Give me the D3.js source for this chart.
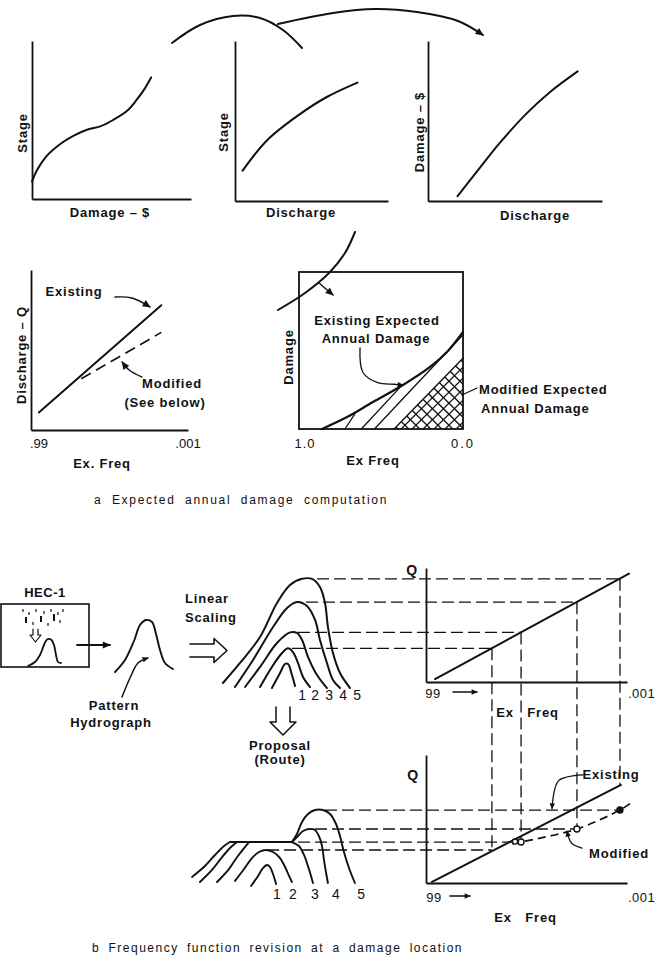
<!DOCTYPE html>
<html><head><meta charset="utf-8">
<script src="https://cdn.jsdelivr.net/npm/d3@7"></script>
<style>
body{margin:0;background:#fff}
text{font-family:"Liberation Sans",Arial,sans-serif;fill:#111;dominant-baseline:central}
</style></head>
<body><svg id="c" width="655" height="955"></svg>
<script>
const W = 655, H = 955, ink = "#111";

// ================= DATA =================
// Top row (all values in 0-100 plot units)
const stageDamage     = [[0,11],[3,18],[9,27],[18,35],[26,40],[35,44],[43,46],[51,50],[60,56],[66,63],[71,70],[75,77]];
const stageDischarge  = [[5,19],[21,38],[42,54],[60,65],[80,74]];
const damageDischarge = [[17,3],[30,21],[41,36],[56,54],[70,68],[86,81]];
// Middle row: discharge-frequency
const qfExisting = [[5,11],[83,78]];
const qfModified = [[32,32],[83,61]];
const qfTicks    = [".99", ".001"];
// Damage-frequency (x = exceedance frequency 1.0 -> 0.0, y = damage)
const dfExisting = [[0.86,0],[0.707,7.6],[0.549,17.2],[0.366,28],[0.201,39.5],[0.098,49],[0,61.8]];
const dfModified = [[0.42,0],[0,45]];
const dfHatch    = [[[0.72,0],[0.66,9.5]],[[0.62,0],[0.38,27]],[[0.54,0],[0,60]]];
const dfTicks    = ["1.0", "0.0"];
// Bottom: scaled hydrographs (t 0-100, Q in upper-frequency-chart units)
const scaledHydro = [
  [[37.1,-5.3],[42.9,7.9],[46.4,15.8],[48.6,15.8],[51.4,6.1],[53.6,-3.5]],
  [[28.6,-4.4],[37.1,13.2],[44.3,25.4],[48.6,29.5],[52.1,26.3],[55.7,16.7],[59.3,4.4],[64.3,-4.4]],
  [[17.9,-4.4],[28.6,13.2],[40.7,34.2],[50,43.5],[55,43],[58.6,36.8],[62.9,21.9],[69.3,6.1],[76.4,-5.3]],
  [[10.7,-4.4],[23.6,19.3],[37.9,48.2],[47.9,64.9],[55,70.2],[62.1,66.7],[67.9,54.4],[71.4,36.8],[76.4,16.7],[80.7,1.8],[85.7,-5.3]],
  [[2.1,-0.9],[14.3,16.7],[28.6,39.5],[40.7,69.3],[50,85.1],[58.6,90.5],[65.7,90.4],[71.4,83.3],[75,69.3],[77.1,48.2],[80.7,25.4],[85.7,7.9],[92.9,-5.3]]
];
const hydroLabels  = ["1","2","3","4","5"];
const scaledLabelT = [58.6,67.9,77.9,87.9,97.9];
// Routed hydrographs (t 0-100, Q in lower chart units)
const routedLimbs = [
  [[3.9,4.7],[11.1,13.3],[16.7,21.9],[21.7,28.9],[25,32]],
  [[8.3,0.8],[15,10.2],[20.6,20.3],[25.6,28.1],[28.9,32]],
  [[17.8,0.8],[24.4,10.9],[29.4,21.1],[33.3,28.1],[35.6,32]]
];
const routedPlateau = [[25,32],[59.4,32]];
const routedHydro = [
  [[36.7,-2.3],[40.6,5.5],[43.3,11.7],[45.6,14.1],[47.2,12.5],[48.9,7],[50.6,-0.8]],
  [[27.8,1.6],[32.8,10.9],[37.2,19.5],[41.1,24.2],[45,25.8],[48.9,24.2],[52.8,19.5],[55.6,12.5],[57.8,5.5],[59.4,0.8]],
  [[59.4,32],[63.3,28.9],[66.1,21.9],[68.3,13.3],[70,5.5],[71.1,0]],
  [[59.4,32],[62.8,36.7],[65.6,40.6],[68.9,42.2],[72.2,41.4],[74.4,36.7],[76.1,28.9],[77.2,18],[78.3,8.6],[79.4,0]],
  [[59.4,32],[62.2,38.3],[65,47.7],[68.3,53.9],[72.2,57],[76.7,57],[80.6,53.9],[83.9,46.1],[86.1,36.7],[88.3,24.2],[91.1,11.7],[94.4,0]]
];
const routedLabelT = [51.1,60,72.2,83.9,97.8];
// Frequency curves (x = exceedance-frequency position 0-100, y = Q)
const eventFreq     = [32.8, 47.3, 75.1, 96.5];
const existingQ     = [29.5, 43.5, 70, 90.5];
const routedQ       = [25.8, 32, 42.2, 57];
const vertEndQ      = [25.8, 32, 42.2, 76];
const upperDashT    = [51.4, 55.7, 61.4, 69.3];
const lowerDashT    = [45.6, 62.8, 72.2, 77.8];
const qUpperExisting = [[4.5,2.6],[101,95]];
const qLowerExisting = [[3,0.8],[97,76.6]];
const qLowerModified = [[43,30.5],[47.3,32],[75.1,42.2],[96.5,57],[101.5,62]];
const freqTicks      = ["99", ".001"];

// ================= HELPERS =================
const svg = d3.select("#c");
svg.append("rect").attr("width",W).attr("height",H).attr("fill","#fff");
const defs = svg.append("defs");
defs.append("marker").attr("id","ah").attr("viewBox","0 0 10 10").attr("refX",9).attr("refY",5)
  .attr("markerWidth",9).attr("markerHeight",8).attr("markerUnits","userSpaceOnUse").attr("orient","auto")
  .append("path").attr("d","M0,0.5L10,5L0,9.5Z").attr("fill",ink);
defs.append("marker").attr("id","ahs").attr("viewBox","0 0 10 10").attr("refX",9).attr("refY",5)
  .attr("markerWidth",7).attr("markerHeight",6).attr("markerUnits","userSpaceOnUse").attr("orient","auto")
  .append("path").attr("d","M0,0.5L10,5L0,9.5Z").attr("fill",ink);

function panel(xd, xr, yd, yr){
  return {x: d3.scaleLinear().domain(xd).range(xr), y: d3.scaleLinear().domain(yd).range(yr)};
}
function draw(p, data, o = {}){
  const gen = d3.line().x(d => p.x(d[0])).y(d => p.y(d[1]))
    .curve(o.linear ? d3.curveLinear : d3.curveCatmullRom);
  const path = svg.append("path").attr("d", gen(data)).attr("fill", o.fill || "none")
    .attr("stroke", ink).attr("stroke-width", o.w || 2).attr("stroke-linecap","round").attr("stroke-linejoin","round");
  if (o.dash) path.attr("stroke-dasharray", o.dash).attr("stroke-linecap","butt");
  if (o.arrow) path.attr("marker-end", `url(#${o.arrow})`);
  return path;
}
function axes(p){
  const g = svg.append("g");
  g.append("g").attr("transform",`translate(${p.x.range()[0]},0)`)
    .call(d3.axisLeft(p.y).tickValues([]).tickSizeOuter(0));
  g.append("g").attr("transform",`translate(0,${p.y.range()[0]})`)
    .call(d3.axisBottom(p.x).tickValues([]).tickSizeOuter(0));
  g.selectAll(".domain").attr("stroke",ink).attr("stroke-width",1.8);
}
function label(x, y, t, o = {}){
  const el = svg.append("text").attr("x",x).attr("y",y).text(t)
    .attr("text-anchor", o.anchor || "middle")
    .attr("font-size", o.size || 13)
    .attr("font-weight", o.weight || "bold")
    .attr("letter-spacing", o.ls !== undefined ? o.ls : 0.8);
  if (o.ws) el.attr("word-spacing", o.ws);
  if (o.rot) el.attr("transform",`rotate(-90,${x},${y})`);
  return el;
}
const sheet = panel([0,W],[0,W],[0,H],[0,H]);

// ================= TOP ROW =================
const p1 = panel([0,100],[32,191],[0,100],[199,41]);
axes(p1); draw(p1, stageDamage);
label(22,133,"Stage",{rot:true}); label(110,212,"Damage – $");

const p2 = panel([0,100],[235,388],[0,100],[201,41]);
axes(p2); draw(p2, stageDischarge);
label(223,132,"Stage",{rot:true}); label(301,212,"Discharge");

const p3 = panel([0,100],[428,602],[0,100],[201,41]);
axes(p3); draw(p3, damageDischarge);
label(419,132,"Damage – $",{rot:true}); label(535,215,"Discharge");

draw(sheet, [[172,43],[200,25],[233,16],[260,18],[283,30],[302,48]]);
draw(sheet, [[278,24],[333,13],[375,9],[417,12],[458,21],[483,35]], {arrow:"ah"});

// ================= MIDDLE ROW =================
const p4 = panel([0,100],[31,188],[0,100],[430,270]);
axes(p4);
draw(p4, qfExisting, {linear:true});
draw(p4, qfModified, {linear:true, dash:"11,6", w:1.6});
label(21,355,"Discharge – Q",{rot:true});
label(p4.x(0)-1,443,qfTicks[0],{anchor:"start",weight:"normal",ls:0});
label(p4.x(100),443,qfTicks[1],{weight:"normal",ls:0});
label(102,463,"Ex. Freq");
label(74,291,"Existing");
draw(p4, [[53.5,83.1],[64.3,82.5],[75.8,76.9]], {w:1.4, arrow:"ah"});
label(172,383,"Modified");
label(165,402,"(See below)");
draw(p4, [[70.7,33.1],[62.5,37.5],[58,42.5]], {w:1.4, arrow:"ah"});

const p5 = panel([1,0],[299,463],[0,100],[429,272]);
svg.append("rect").attr("x",p5.x(1)).attr("y",p5.y(100))
  .attr("width",p5.x(0)-p5.x(1)).attr("height",p5.y(0)-p5.y(100))
  .attr("fill","none").attr("stroke",ink).attr("stroke-width",1.8);
// cross-hatched modified area
const polyPts = [[dfModified[0][0],0],[dfModified[1][0],dfModified[1][1]],[0,0]];
defs.append("clipPath").attr("id","modClip").append("path")
  .attr("d", "M" + polyPts.map(d => [p5.x(d[0]),p5.y(d[1])].join(",")).join("L") + "Z");
const cx0 = p5.x(dfModified[0][0]) - 5, cx1 = p5.x(0), cy0 = p5.y(dfModified[1][1]) - 5, cy1 = p5.y(0);
const hatchG = svg.append("g").attr("clip-path","url(#modClip)");
d3.range(-120, 120, 11).forEach(c => {
  hatchG.append("line").attr("x1",cx0).attr("y1",cy1 + c).attr("x2",cx1).attr("y2",cy1 + c - (cx1-cx0))
    .attr("stroke",ink).attr("stroke-width",1.3);
  hatchG.append("line").attr("x1",cx0).attr("y1",cy0 + c).attr("x2",cx1).attr("y2",cy0 + c + (cx1-cx0))
    .attr("stroke",ink).attr("stroke-width",1.3);
});
draw(p5, dfModified, {linear:true, w:1.4});
dfHatch.forEach(h => draw(p5, h, {linear:true, w:1.3}));
draw(p5, dfExisting, {w:2.2});
label(288,357,"Damage",{rot:true});
label(305,443,dfTicks[0],{weight:"normal",ls:1});
label(463,443,dfTicks[1],{weight:"normal",ls:2});
label(373,460,"Ex Freq");
label(377,320,"Existing Expected");
label(376,338,"Annual Damage");
draw(p5, [[0.628,51.6],[0.61,36],[0.52,29.5],[0.42,28.5],[0.366,28]], {w:1.3, arrow:"ahs"});
label(479,389,"Modified Expected",{anchor:"start"});
label(481,408,"Annual Damage",{anchor:"start"});
draw(sheet, [[477,388],[462,395]], {linear:true, w:1.3});
// connector arc crossing into the damage box
draw(sheet, [[355,232],[345,253],[329,273],[305,293],[278,310]]);
draw(sheet, [[319,283],[333,295]], {linear:true, w:1.4, arrow:"ah"});

label(94,500,"a   Expected  annual  damage  computation",{anchor:"start",weight:"normal",size:12,ls:1.7,ws:4.5});

// ================= BOTTOM: HEC-1 & pattern =================
label(45,592,"HEC-1",{ls:0.5});
svg.append("rect").attr("x",sheet.x(1)).attr("y",sheet.y(604)).attr("width",88).attr("height",63)
  .attr("fill","none").attr("stroke",ink).attr("stroke-width",1.6);
const rainDrops = [[23,609,3],[29,612,3],[36,609,3],[44,611,3],[51,609,3],[58,612,3],[63,609,3],
                   [26,617,6],[41,616,6],[54,614,7],[33,622,3],[48,623,3],[60,620,3]];
rainDrops.forEach(d => svg.append("line").attr("x1",sheet.x(d[0])).attr("x2",sheet.x(d[0]))
  .attr("y1",sheet.y(d[1])).attr("y2",sheet.y(d[1]+d[2])).attr("stroke",ink).attr("stroke-width",d[2]>4?2:1.2));
draw(sheet, [[33,629],[33,635],[30,635],[35.5,642],[41,635],[38,635],[38,629]], {linear:true, w:1.2});
draw(sheet, [[28,666],[35,662],[40,655],[44,645],[47,639.5],[51,639.5],[54,645],[56,655],[58,662],[61,663]], {w:1.8});
draw(sheet, [[77,645],[110,645]], {linear:true, w:1.8, arrow:"ah"});

draw(sheet, [[115,672],[125,660],[134,641],[140,625],[146,620],[152,622],[156,634],[160,650],[165,663],[173,669]], {w:1.9});
draw(sheet, [[122,697],[130,678],[138,663],[148,658]], {w:1.5, arrow:"ahs"});
label(114,705,"Pattern");
label(111,722,"Hydrograph");

label(185,598,"Linear",{anchor:"start"});
label(185,617,"Scaling",{anchor:"start"});
draw(sheet, [[190,644],[214,644],[214,638.5],[227,650.5],[214,662.5],[214,657],[190,657]], {linear:true, w:1.6});

// scaled hydrograph family (uses upper frequency chart Q scale)
const qx  = d3.scaleLinear().domain([0,100]).range([426,627]);
const qyU = d3.scaleLinear().domain([0,100]).range([682,568]);
const qyL = d3.scaleLinear().domain([0,100]).range([883,755]);
const famU = {x: d3.scaleLinear().domain([0,100]).range([220,360]), y: qyU};
const famL = {x: d3.scaleLinear().domain([0,100]).range([185,365]), y: qyL};
scaledHydro.forEach(h => draw(famU, h, {w:2}));
hydroLabels.forEach((t,i) => label(famU.x(scaledLabelT[i]), qyU(-11.4), t, {ls:0, size:14, weight:"normal"}));

// proposal arrow
draw(sheet, [[276,707],[276,722],[270,722],[283,735],[296,722],[290,722],[290,707]], {linear:true, w:1.5});
label(280,745,"Proposal");
label(280,759,"(Route)");

// routed hydrographs
routedLimbs.forEach(h => draw(famL, h, {w:1.9}));
draw(famL, routedPlateau, {linear:true, w:2});
routedHydro.forEach(h => draw(famL, h, {w:1.9}));
hydroLabels.forEach((t,i) => label(famL.x(routedLabelT[i]), qyL(-8.6), t, {ls:0, size:14, weight:"normal"}));

// ================= FREQUENCY CHARTS =================
const pU = {x: qx, y: qyU};
const pL = {x: qx, y: qyL};
axes(pU); axes(pL);
draw(pU, qUpperExisting, {linear:true, w:2});
draw(pL, qLowerExisting, {linear:true, w:2});
draw(pL, qLowerModified, {dash:"8,5", w:1.7});

eventFreq.forEach((f,i) => {
  // horizontal dashed: scaled peaks -> existing curve
  svg.append("line").attr("x1",famU.x(upperDashT[i])).attr("x2",qx(f))
    .attr("y1",qyU(existingQ[i])).attr("y2",qyU(existingQ[i]))
    .attr("stroke",ink).attr("stroke-width",1.3).attr("stroke-dasharray","12,5");
  // vertical dashed: frequency carried down
  svg.append("line").attr("x1",qx(f)).attr("x2",qx(f))
    .attr("y1",qyU(existingQ[i])).attr("y2",qyL(vertEndQ[i]))
    .attr("stroke",ink).attr("stroke-width",1.3).attr("stroke-dasharray","12,5");
  // horizontal dashed: routed peaks -> modified points
  svg.append("line").attr("x1",famL.x(lowerDashT[i])).attr("x2",qx(f))
    .attr("y1",qyL(routedQ[i])).attr("y2",qyL(routedQ[i]))
    .attr("stroke",ink).attr("stroke-width",1.3).attr("stroke-dasharray","12,5");
});
// modified points
eventFreq.forEach((f,i) => {
  if (i === 0) return;
  svg.append("circle").attr("cx",qx(f)).attr("cy",qyL(routedQ[i])).attr("r",3)
    .attr("fill", i === 3 ? ink : "#fff").attr("stroke",ink).attr("stroke-width",1.4);
});
svg.append("circle").attr("cx",qx(eventFreq[1])-6).attr("cy",qyL(routedQ[1])-0.5).attr("r",2.6)
  .attr("fill","#fff").attr("stroke",ink).attr("stroke-width",1.4);

// labels upper chart
label(412,570,"Q",{size:14});
label(qx(0)+7,693,freqTicks[0],{weight:"normal",ls:0.5});
draw(sheet, [[453,692],[477,692]], {linear:true, w:1.6, arrow:"ahs"});
label(qx(100)+1,693,freqTicks[1],{anchor:"start",weight:"normal",ls:0.5});
label(505,712,"Ex");
label(543,712,"Freq");
// labels lower chart
label(413,775,"Q",{size:14});
label(qx(0)+8,897,freqTicks[0],{weight:"normal",ls:0.5});
draw(sheet, [[450,896],[470,896]], {linear:true, w:1.6, arrow:"ahs"});
label(qx(100)+1,897,freqTicks[1],{anchor:"start",weight:"normal",ls:0.5});
label(503,917,"Ex");
label(541,917,"Freq");
label(611,774,"Existing");
draw(pL, [[78.1,84.4],[66,80],[62.7,58]], {w:1.3, arrow:"ahs"});
label(619,853,"Modified");
draw(pL, [[77.6,27.3],[72.5,31],[70.1,40.5]], {w:1.3, arrow:"ahs"});

label(92,948,"b   Frequency  function  revision  at  a  damage  location",{anchor:"start",weight:"normal",size:12,ls:1.5,ws:3.5});
</script></body></html>
